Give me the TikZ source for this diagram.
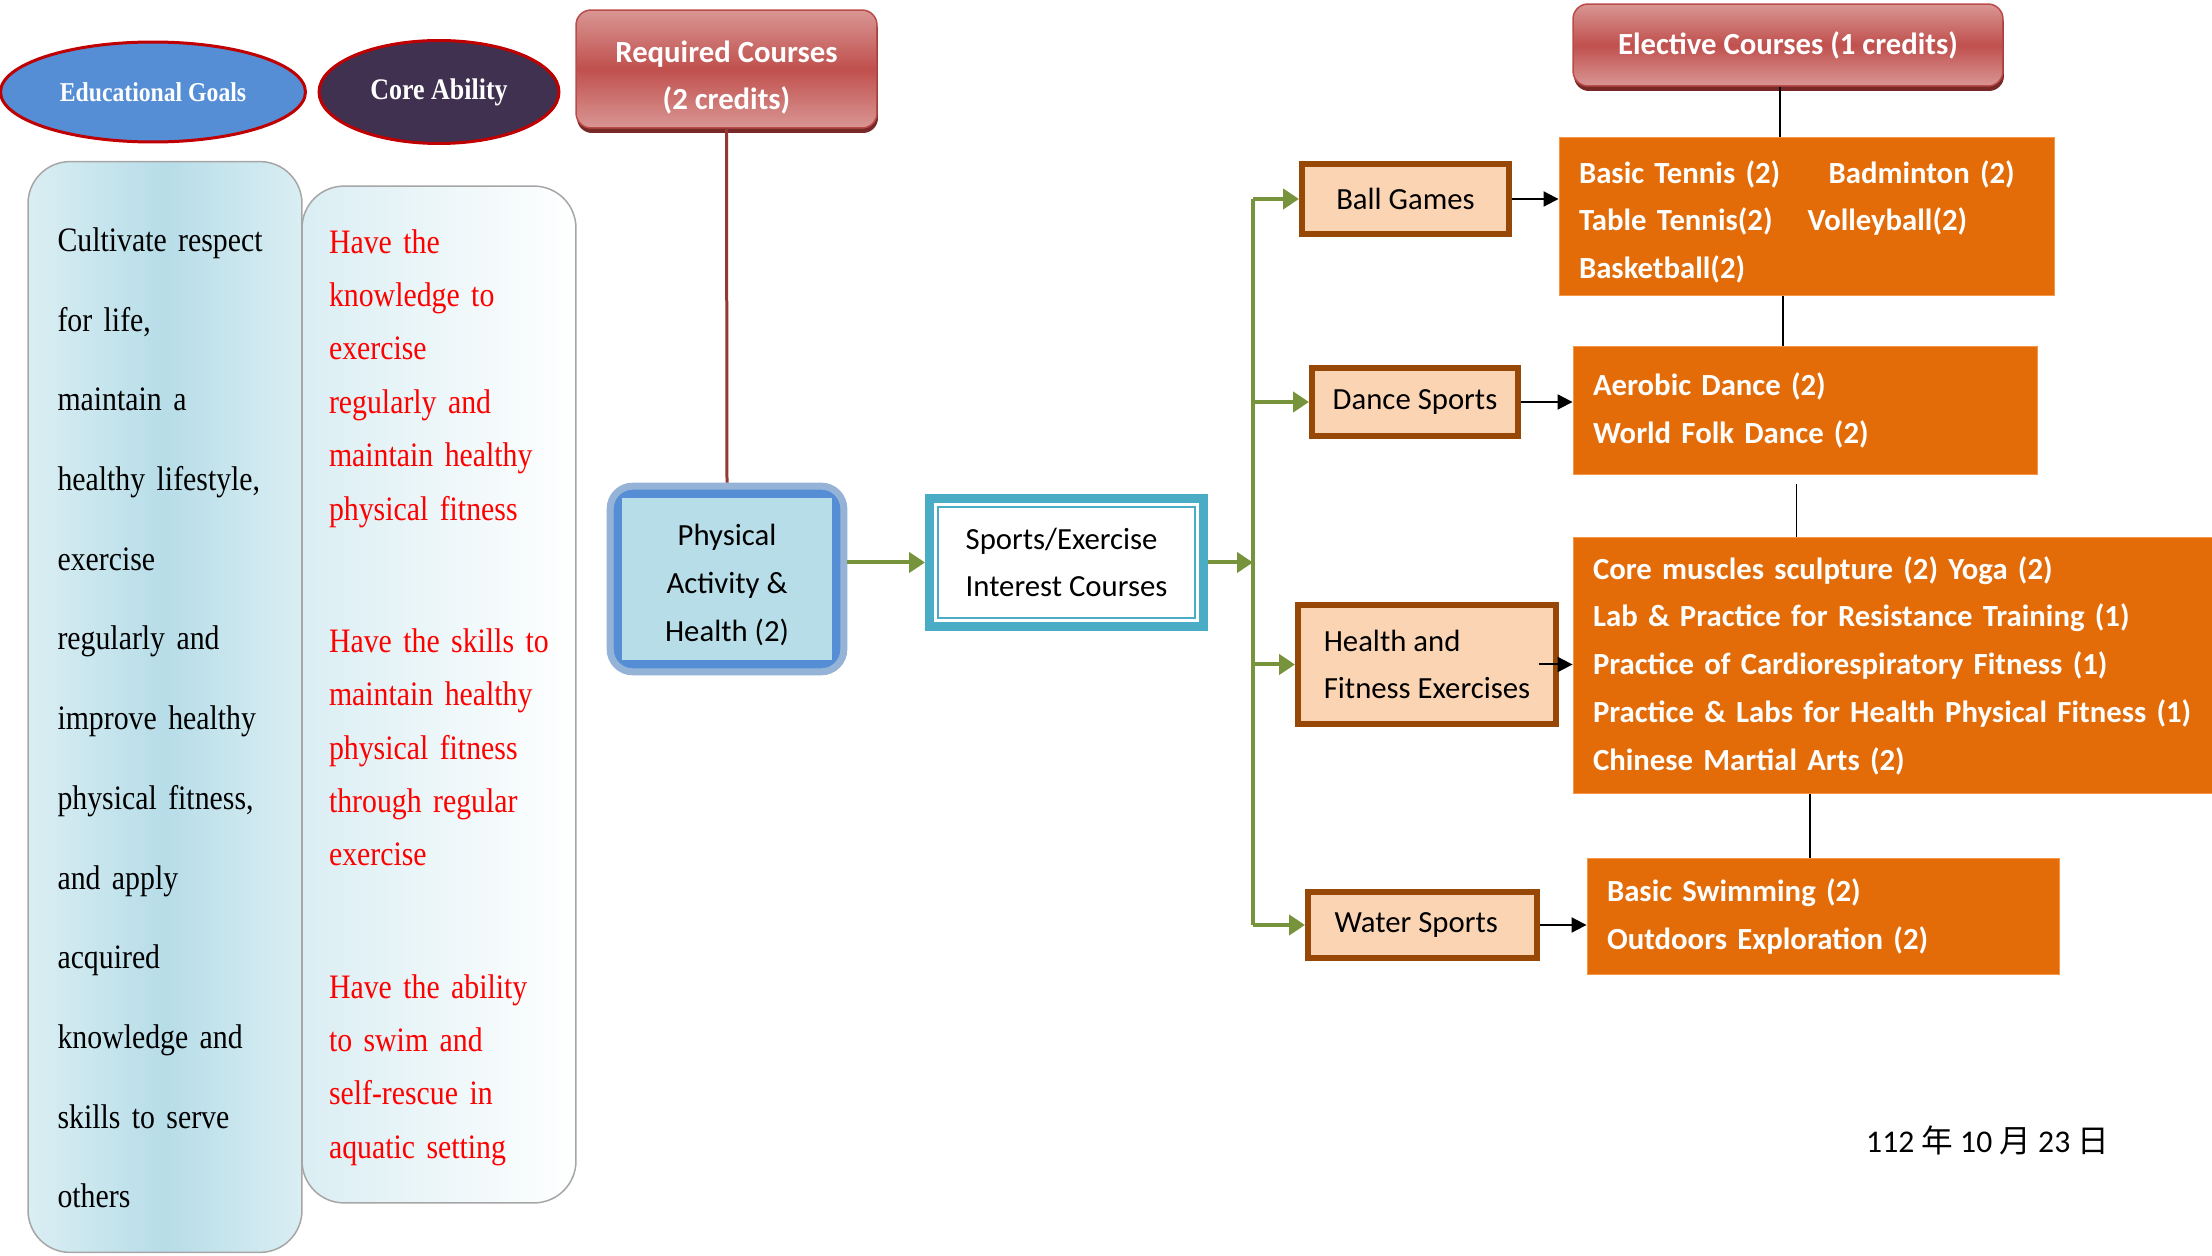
\documentclass[tikz,border=0pt]{standalone}
\usepackage{fontspec}
\setmainfont{Carlito}
\newfontfamily\goalfont[FakeStretch=0.87]{Liberation Serif}
\newfontfamily\cjk{Noto Sans CJK TC}
\usetikzlibrary{
    arrows.meta,
    positioning,
    fit,
    backgrounds,
    shadows,
    shapes.geometric
}
\definecolor{goalblue}{RGB}{85,142,213}
\definecolor{ovaledge}{RGB}{192,0,0}
\definecolor{corepurple}{RGB}{64,49,81}
\definecolor{reqmid}{RGB}{192,80,77}
\definecolor{reqlight}{RGB}{217,150,148}
\definecolor{reqedge}{RGB}{185,75,72}
\definecolor{reqshadow}{RGB}{120,40,38}
\definecolor{goalpale}{RGB}{218,238,243}
\definecolor{goaldeep}{RGB}{183,221,232}
\definecolor{frameline}{RGB}{166,166,166}
\definecolor{halo}{RGB}{149,179,215}
\definecolor{pafill}{RGB}{183,222,232}
\definecolor{interestteal}{RGB}{75,172,198}
\definecolor{branchgreen}{RGB}{119,147,60}
\definecolor{peach}{RGB}{251,212,180}
\definecolor{brownedge}{RGB}{152,72,6}
\definecolor{orangefill}{RGB}{227,108,9}
\definecolor{orangeedge}{RGB}{247,150,70}
\definecolor{linkred}{RGB}{149,55,53}
% taller first line, pushes a text block down inside its box
\newcommand{\topgap}[1]{\rule{0pt}{#1}}
\tikzset{
    headoval/.style={
        ellipse,
        draw=ovaledge,
        line width=0.06cm,
        inner sep=0pt,
        text=white
    },
    creditbox/.style={
        rectangle,
        rounded corners=0.3cm,
        draw=reqedge,
        line width=0.03cm,
        top color=reqlight,
        bottom color=reqlight,
        middle color=reqmid,
        text=white,
        align=center,
        font=\bfseries\fontsize{17.5}{27.2}\selectfont,
        drop shadow={shadow xshift=0.02cm, shadow yshift=-0.1cm, fill=reqshadow, opacity=1}
    },
    panel/.style={
        rectangle,
        rounded corners=0.84cm,
        draw=frameline,
        line width=0.03cm,
        minimum width=5.48cm,
        align=left,
        inner xsep=0pt
    },
    goalpanel/.style={
        panel,
        left color=goalpale,
        right color=goalpale,
        middle color=goaldeep,
        text width=4.3cm,
        font=\goalfont\fontsize{19.5}{45.35}\selectfont
    },
    abilitypanel/.style={
        panel,
        left color=goalpale,
        right color=white,
        text width=4.4cm,
        text=red,
        font=\goalfont\fontsize{19.5}{30.4}\selectfont
    },
    pabox/.style={
        rectangle,
        fill=pafill,
        minimum width=4.2cm,
        minimum height=3.24cm,
        align=center,
        font=\fontsize{17.5}{27.2}\selectfont
    },
    paframe/.style={
        rectangle,
        rounded corners=0.45cm,
        fill=goalblue,
        draw=halo,
        line width=0.14cm,
        inner sep=0.23cm
    },
    interestbox/.style={
        rectangle,
        draw=interestteal,
        fill=white,
        line width=0.18cm,
        minimum width=5.48cm,
        minimum height=2.56cm,
        align=left,
        font=\fontsize{17.5}{27.2}\selectfont,
        path picture={
            \draw[interestteal, line width=0.04cm]
                ([shift={(0.17cm,0.17cm)}]path picture bounding box.south west)
                rectangle ([shift={(-0.17cm,-0.17cm)}]path picture bounding box.north east);
        }
    },
    catbox/.style={
        rectangle,
        fill=peach,
        draw=brownedge,
        line width=0.12cm,
        align=left,
        font=\fontsize{17.5}{27.2}\selectfont
    },
    coursebox/.style={
        rectangle,
        fill=orangefill,
        draw=orangeedge,
        line width=0.02cm,
        text=white,
        align=left,
        inner xsep=0pt,
        font=\bfseries\fontsize{17.5}{27.2}\selectfont
    },
    greenflow/.style={
        -{Triangle[length=0.32cm,width=0.4cm]},
        draw=branchgreen,
        line width=0.08cm
    },
    greenbus/.style={
        draw=branchgreen,
        line width=0.08cm
    },
    courseflow/.style={
        -{Triangle[length=0.3cm,width=0.3cm]},
        draw=black,
        line width=0.04cm
    },
    courselink/.style={
        draw=black,
        line width=0.03cm
    },
    requiredlink/.style={
        draw=linkred,
        line width=0.06cm
    }
}

\begin{document}
\begin{tikzpicture}[x=0.02cm, y=-0.02cm]
\useasboundingbox (0,0) rectangle (2212,1256);

% Heading ovals
\node[headoval, fill=goalblue, minimum width=6.1cm, minimum height=2cm,
    font=\goalfont\bfseries\fontsize{15.5}{18}\selectfont] (edugoal) at (153,92) {Educational Goals};
\node[headoval, fill=corepurple, minimum width=4.8cm, minimum height=2.06cm,
    font=\goalfont\bfseries\fontsize{17}{20}\selectfont] (coreoval) at (439,92) {Core Ability};

% Goal and ability panels
\node[goalpanel, minimum height=21.82cm] (goals) at (165,707) {\topgap{26pt}Cultivate respect\\for life,\\maintain a\\healthy lifestyle,\\exercise\\regularly and\\improve healthy\\physical fitness,\\and apply\\acquired\\knowledge and\\skills to serve\\others};
\node[abilitypanel, minimum height=20.34cm] (ability) at (439,694.5) {\topgap{17pt}Have the\\knowledge to\\exercise\\regularly and\\maintain healthy\\physical fitness\\[44.8pt]Have the skills to\\maintain healthy\\physical fitness\\through regular\\exercise\\[44.8pt]Have the ability\\to swim and\\self-rescue in\\aquatic setting};

% Credit headers
\node[creditbox, minimum width=6.02cm, minimum height=2.36cm] (required) at (726.5,69) {\topgap{22pt}Required Courses\\(2 credits)};
\node[creditbox, minimum width=8.6cm, minimum height=1.64cm] (elective) at (1788,45) {Elective Courses (1 credits)};

% Required course
\node[pabox] (pah) at (727,579) {\topgap{19pt}Physical\\Activity \&\\Health (2)};
\begin{scope}[on background layer]
    \node[paframe, fit=(pah)] (pahframe) {};
\end{scope}
\draw[requiredlink] (required.south) -- (pahframe.north);

\node[interestbox] (interest) at (1066.5,562.5) {Sports/Exercise\\Interest Courses};
\draw[greenflow] (pahframe.east |- interest.west) -- (interest.west);

% Categories
\node[catbox, minimum width=4.14cm, minimum height=1.4cm, align=center] (ballcat) at (1405.5,199) {Ball Games};
\node[catbox, minimum width=4.12cm, minimum height=1.36cm, align=center] (dancecat) at (1415,402) {Dance Sports};
\node[catbox, minimum width=5.16cm, minimum height=2.38cm] (fitcat) at (1427,664.5) {Health and\\Fitness Exercises};
\node[catbox, minimum width=4.58cm, minimum height=1.32cm, align=center] (watercat) at (1422.5,925) {Water Sports\hspace*{0.25cm}};

% Green bus
\coordinate (bustop) at (1253,199);
\coordinate (busbot) at (1253,925);
\draw[greenbus] (bustop) -- (busbot);
\draw[greenflow] (interest.east) -- (bustop |- interest.east);
\draw[greenflow] (bustop) -- (ballcat.west);
\draw[greenflow] (bustop |- dancecat.west) -- (dancecat.west);
\draw[greenflow] (bustop |- fitcat.west) -- (fitcat.west);
\draw[greenflow] (busbot) -- (watercat.west);

% Elective course lists
\node[coursebox, minimum width=9.92cm, minimum height=3.18cm, text width=9.12cm] (ballcourses) at (1807,216.5)
    {\topgap{19pt}\makebox[142pt][l]{Basic Tennis (2)}Badminton (2)\\\makebox[130pt][l]{Table Tennis(2)}Volleyball(2)\\Basketball(2)};
\node[coursebox, minimum width=9.3cm, minimum height=2.58cm, text width=8.5cm] (dancecourses) at (1805.5,410.5)
    {Aerobic Dance (2)\\World Folk Dance (2)};
\node[coursebox, minimum width=13.34cm, minimum height=5.14cm, text width=12.54cm] (fitcourses) at (1906.5,665.5)
    {Core muscles sculpture (2) Yoga (2)\\Lab \& Practice for Resistance Training (1)\\Practice of Cardiorespiratory Fitness (1)\\Practice \& Labs for Health Physical Fitness (1)\\Chinese Martial Arts (2)};
\node[coursebox, minimum width=9.46cm, minimum height=2.34cm, text width=8.66cm] (watercourses) at (1823.5,916.5)
    {Basic Swimming (2)\\Outdoors Exploration (2)};

\draw[courseflow] (ballcat.east) -- (ballcat.east -| ballcourses.west);
\draw[courseflow] (dancecat.east) -- (dancecat.east -| dancecourses.west);
\draw[courseflow] ([xshift=-0.4cm]fitcat.east) -- (fitcat.east -| fitcourses.west);
\draw[courseflow] (watercat.east) -- (watercat.east -| watercourses.west);

\draw[courselink] ([xshift=-0.16cm]elective.south) -- ([xshift=-0.16cm]elective.south |- ballcourses.north);
\draw[courselink] ([xshift=-0.1cm]ballcourses.south -| elective.south) -- ([xshift=-0.1cm]dancecourses.north -| elective.south);
\draw[courselink] ([xshift=-0.18cm, yshift=-0.18cm]dancecourses.south) -- ([xshift=-0.18cm]dancecourses.south |- fitcourses.north);
\draw[courselink] ([xshift=-0.27cm]watercourses.north |- fitcourses.south) -- ([xshift=-0.27cm]watercourses.north);

% Date
\node[anchor=west, font=\fontsize{18}{21}\selectfont] (stamp) at (1860,1140) {112 {\cjk 年} 10 {\cjk 月} 23 {\cjk 日}};

\end{tikzpicture}
\end{document}
